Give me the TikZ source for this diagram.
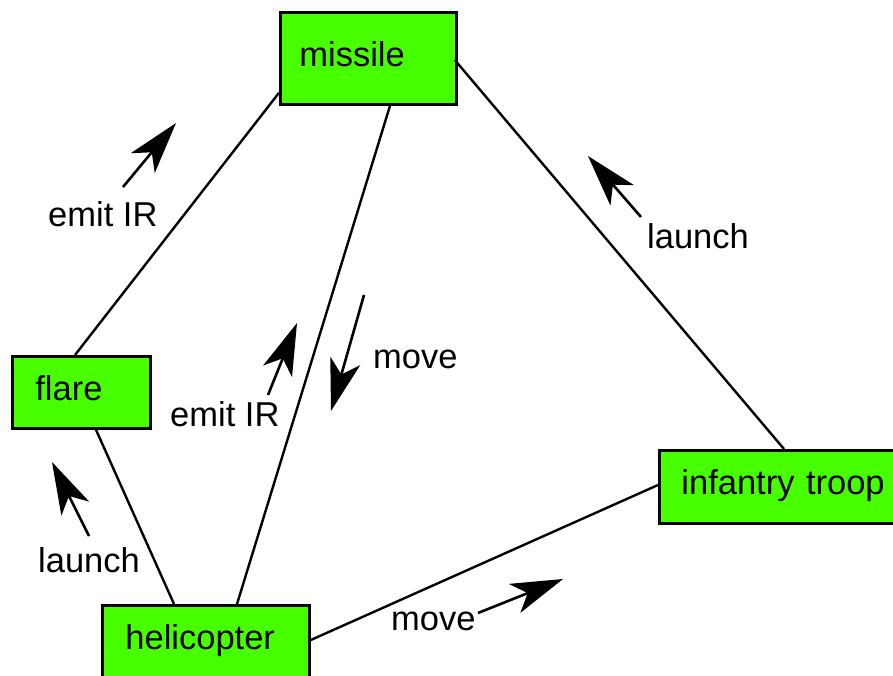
\documentclass[tikz,border=0pt]{standalone}
\usepackage{fontspec}
\setmainfont{Liberation Sans}
\usetikzlibrary{arrows.meta}
\definecolor{boxgreen}{RGB}{72,255,0}
\tikzset{
  box/.style={draw=black, line width=2.8pt, fill=boxgreen, align=left,
    font=\fontsize{34.5}{40}\selectfont, inner ysep=0pt,
    text height=25pt, text depth=9pt, anchor=north west},
  edge/.style={line width=2.4pt},
  flow/.style={line width=2.6pt, -{Stealth[length=52pt,width=31pt,inset=14pt]}},
  lab/.style={font=\fontsize{34.5}{40}\selectfont, anchor=base west, inner sep=0pt}
}
\begin{document}
\begin{tikzpicture}[x=1pt,y=-1pt]
\useasboundingbox (0,0) rectangle (893,675);
\clip (0,0) rectangle (893,675);
% boxes
\node[box, minimum height=92pt, inner xsep=19pt, text width=138pt] (missile) at (279,11) {missile};
\node[box, minimum height=72pt, inner xsep=23pt, text width=92pt] (flare) at (11,355) {flare};
\node[box, minimum height=76pt, inner xsep=23pt, text width=161pt, text depth=13pt] (helicopter) at (101,604) {helicopter};
\node[box, minimum height=73pt, inner xsep=22pt, text width=215pt] (infantry) at (658,449) {infantry troop};
% connectors
\draw[edge] ([yshift=13pt]missile.south west) -- ([xshift=64pt]flare.north west);
\draw[edge] ([xshift=111pt]missile.south west) -- ([xshift=136pt]helicopter.north west);
\draw[edge] ([xshift=-3pt,yshift=-49pt]missile.north east) -- ([xshift=126pt]infantry.north west);
\draw[edge] ([xshift=85pt]flare.south west) -- ([xshift=73pt]helicopter.north west);
\draw[edge] ([yshift=-36pt]helicopter.north east) -- ([yshift=-36pt]infantry.north west);
% free arrows
\coordinate (a1s) at (123,187); \coordinate (a1e) at (176,123);
\coordinate (a2s) at (641,217); \coordinate (a2e) at (588,156);
\coordinate (a3s) at (364,295); \coordinate (a3e) at (331,411);
\coordinate (a4s) at (268,395); \coordinate (a4e) at (297,323);
\coordinate (a5s) at (89,536);  \coordinate (a5e) at (52,462);
\coordinate (a6s) at (478,613); \coordinate (a6e) at (563,579);
\draw[flow] (a1s) -- (a1e);
\draw[flow] (a2s) -- (a2e);
\draw[flow] (a3s) -- (a3e);
\draw[flow] (a4s) -- (a4e);
\draw[flow] (a5s) -- (a5e);
\draw[flow] (a6s) -- (a6e);
% labels
\node[lab] (l1) at (48,226) {emit IR};
\node[lab] (l2) at (647,248) {launch};
\node[lab] (l3) at (373,368) {move};
\node[lab] (l4) at (170,426) {emit IR};
\node[lab] (l5) at (38,572) {launch};
\node[lab] (l6) at (391,630) {move};
\end{tikzpicture}
\end{document}
